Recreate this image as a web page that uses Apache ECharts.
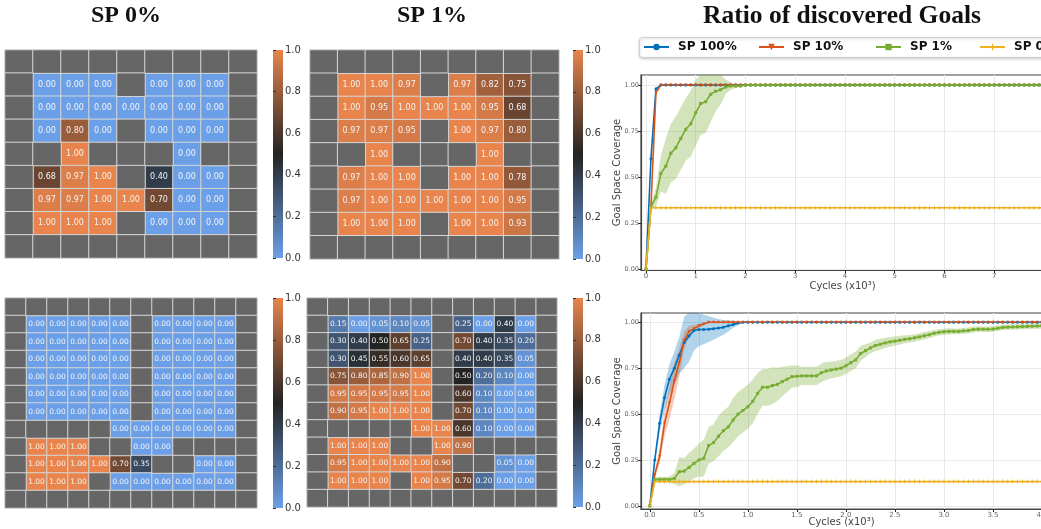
<!DOCTYPE html>
<html>
<head>
<meta charset="utf-8">
<script src="https://cdn.jsdelivr.net/npm/echarts@6/dist/echarts.min.js"></script>
<style>
  html, body { margin: 0; padding: 0; background: #fff; }
  #chart { width: 1041px; height: 529px; }
</style>
</head>
<body>
<div id="chart"></div>
<script>
// wall cells of the maze have no value
var _ = null;

// success ratio per cell, small maze (9x9)
var sp0Small = [
  [_, _, _, _, _, _, _, _, _],
  [_, 0, 0, 0, _, 0, 0, 0, _],
  [_, 0, 0, 0, 0, 0, 0, 0, _],
  [_, 0, 0.80, 0, _, 0, 0, 0, _],
  [_, _, 1, _, _, _, 0, _, _],
  [_, 0.68, 0.97, 1, _, 0.40, 0, 0, _],
  [_, 0.97, 0.97, 1, 1, 0.70, 0, 0, _],
  [_, 1, 1, 1, _, 0, 0, 0, _],
  [_, _, _, _, _, _, _, _, _]
];
var sp1Small = [
  [_, _, _, _, _, _, _, _, _],
  [_, 1, 1, 0.97, _, 0.97, 0.82, 0.75, _],
  [_, 1, 0.95, 1, 1, 1, 0.95, 0.68, _],
  [_, 0.97, 0.97, 0.95, _, 1, 0.97, 0.80, _],
  [_, _, 1, _, _, _, 1, _, _],
  [_, 0.97, 1, 1, _, 1, 1, 0.78, _],
  [_, 0.97, 1, 1, 1, 1, 1, 0.95, _],
  [_, 1, 1, 1, _, 1, 1, 0.93, _],
  [_, _, _, _, _, _, _, _, _]
];

// success ratio per cell, large maze (12x12)
var sp0Large = [
  [_, _, _, _, _, _, _, _, _, _, _, _],
  [_, 0, 0, 0, 0, 0, _, 0, 0, 0, 0, _],
  [_, 0, 0, 0, 0, 0, _, 0, 0, 0, 0, _],
  [_, 0, 0, 0, 0, 0, _, 0, 0, 0, 0, _],
  [_, 0, 0, 0, 0, 0, _, 0, 0, 0, 0, _],
  [_, 0, 0, 0, 0, 0, _, 0, 0, 0, 0, _],
  [_, 0, 0, 0, 0, 0, _, 0, 0, 0, 0, _],
  [_, _, _, _, _, 0, 0, 0, 0, 0, 0, _],
  [_, 1, 1, 1, _, _, 0, 0, _, _, _, _],
  [_, 1, 1, 1, 1, 0.70, 0.35, _, _, 0, 0, _],
  [_, 1, 1, 1, _, 0, 0, 0, 0, 0, 0, _],
  [_, _, _, _, _, _, _, _, _, _, _, _]
];
var sp1Large = [
  [_, _, _, _, _, _, _, _, _, _, _, _],
  [_, 0.15, 0, 0.05, 0.10, 0.05, _, 0.25, 0, 0.40, 0, _],
  [_, 0.30, 0.40, 0.50, 0.65, 0.25, _, 0.70, 0.40, 0.35, 0.20, _],
  [_, 0.30, 0.45, 0.55, 0.60, 0.65, _, 0.40, 0.40, 0.35, 0.05, _],
  [_, 0.75, 0.80, 0.85, 0.90, 1, _, 0.50, 0.20, 0.10, 0, _],
  [_, 0.95, 0.95, 0.95, 0.95, 1, _, 0.60, 0.10, 0, 0, _],
  [_, 0.90, 0.95, 1, 1, 1, _, 0.70, 0.10, 0, 0, _],
  [_, _, _, _, _, 1, 1, 0.60, 0.10, 0, 0, _],
  [_, 1, 1, 1, _, _, 1, 0.90, _, _, _, _],
  [_, 0.95, 1, 1, 1, 1, 0.90, _, _, 0.05, 0, _],
  [_, 1, 1, 1, _, 1, 0.95, 0.70, 0.20, 0, 0, _],
  [_, _, _, _, _, _, _, _, _, _, _, _]
];

// tick labels
var colorbarTicks = [0, 0.2, 0.4, 0.6, 0.8, 1];
var topXTicks = [0, 1, 2, 3, 4, 5, 6, 7, 8];
var botXTicks = [0, 0.5, 1, 1.5, 2, 2.5, 3, 3.5, 4];
var yTicks = [0, 0.25, 0.5, 0.75, 1];

var seriesNames = ["SP 100%", "SP 10%", "SP 1%", "SP 0%"];

// top curve: cycles (x10^3) and coverage
var xTop = [
  0, 0.1, 0.2, 0.3, 0.4, 0.5, 0.6, 0.7, 0.8, 0.9,
  1, 1.1, 1.2, 1.3, 1.4, 1.5, 1.6, 1.7, 1.8, 1.9,
  2, 2.1, 2.2, 2.3, 2.4, 2.5, 2.6, 2.7, 2.8, 2.9,
  3, 3.1, 3.2, 3.3, 3.4, 3.5, 3.6, 3.7, 3.8, 3.9,
  4, 4.1, 4.2, 4.3, 4.4, 4.5, 4.6, 4.7, 4.8, 4.9,
  5, 5.1, 5.2, 5.3, 5.4, 5.5, 5.6, 5.7, 5.8, 5.9,
  6, 6.1, 6.2, 6.3, 6.4, 6.5, 6.6, 6.7, 6.8, 6.9,
  7, 7.1, 7.2, 7.3, 7.4, 7.5, 7.6, 7.7, 7.8, 7.9,
  8
];
var sp100Top = [
  0, 0.6, 0.98, 1, 1, 1, 1, 1, 1, 1,
  1, 1, 1, 1, 1, 1, 1, 1, 1, 1,
  1, 1, 1, 1, 1, 1, 1, 1, 1, 1,
  1, 1, 1, 1, 1, 1, 1, 1, 1, 1,
  1, 1, 1, 1, 1, 1, 1, 1, 1, 1,
  1, 1, 1, 1, 1, 1, 1, 1, 1, 1,
  1, 1, 1, 1, 1, 1, 1, 1, 1, 1,
  1, 1, 1, 1, 1, 1, 1, 1, 1, 1,
  1
];
var sp10Top = [
  0, 0.34, 0.96, 1, 1, 1, 1, 1, 1, 1,
  1, 1, 1, 1, 1, 1, 1, 1, 1, 1,
  1, 1, 1, 1, 1, 1, 1, 1, 1, 1,
  1, 1, 1, 1, 1, 1, 1, 1, 1, 1,
  1, 1, 1, 1, 1, 1, 1, 1, 1, 1,
  1, 1, 1, 1, 1, 1, 1, 1, 1, 1,
  1, 1, 1, 1, 1, 1, 1, 1, 1, 1,
  1, 1, 1, 1, 1, 1, 1, 1, 1, 1,
  1
];
var sp1Top = [
  0, 0.34, 0.39, 0.52, 0.56, 0.63, 0.66, 0.71, 0.76, 0.79,
  0.85, 0.9, 0.91, 0.95, 0.967, 0.975, 0.99, 0.995, 0.995, 0.995,
  1, 1, 1, 1, 1, 1, 1, 1, 1, 1,
  1, 1, 1, 1, 1, 1, 1, 1, 1, 1,
  1, 1, 1, 1, 1, 1, 1, 1, 1, 1,
  1, 1, 1, 1, 1, 1, 1, 1, 1, 1,
  1, 1, 1, 1, 1, 1, 1, 1, 1, 1,
  1, 1, 1, 1, 1, 1, 1, 1, 1, 1,
  1
];
var sp1TopSd = [
  0, 0.02, 0.05, 0.1, 0.15, 0.16, 0.17, 0.17, 0.17, 0.18,
  0.18, 0.17, 0.17, 0.15, 0.11, 0.08, 0.04, 0.02, 0.01, 0.005,
  0, 0, 0, 0, 0, 0, 0, 0, 0, 0,
  0, 0, 0, 0, 0, 0, 0, 0, 0, 0,
  0, 0, 0, 0, 0, 0, 0, 0, 0, 0,
  0, 0, 0, 0, 0, 0, 0, 0, 0, 0,
  0, 0, 0, 0, 0, 0, 0, 0, 0, 0,
  0, 0, 0, 0, 0, 0, 0, 0, 0, 0,
  0
];
var sp0Top = [
  0, 0.333, 0.333, 0.333, 0.333, 0.333, 0.333, 0.333, 0.333, 0.333,
  0.333, 0.333, 0.333, 0.333, 0.333, 0.333, 0.333, 0.333, 0.333, 0.333,
  0.333, 0.333, 0.333, 0.333, 0.333, 0.333, 0.333, 0.333, 0.333, 0.333,
  0.333, 0.333, 0.333, 0.333, 0.333, 0.333, 0.333, 0.333, 0.333, 0.333,
  0.333, 0.333, 0.333, 0.333, 0.333, 0.333, 0.333, 0.333, 0.333, 0.333,
  0.333, 0.333, 0.333, 0.333, 0.333, 0.333, 0.333, 0.333, 0.333, 0.333,
  0.333, 0.333, 0.333, 0.333, 0.333, 0.333, 0.333, 0.333, 0.333, 0.333,
  0.333, 0.333, 0.333, 0.333, 0.333, 0.333, 0.333, 0.333, 0.333, 0.333,
  0.333
];

// bottom curve: cycles (x10^3) and coverage
var xBot = [
  0, 0.05, 0.1, 0.15, 0.2, 0.25, 0.3, 0.35, 0.4, 0.45,
  0.5, 0.55, 0.6, 0.65, 0.7, 0.75, 0.8, 0.85, 0.9, 0.95,
  1, 1.05, 1.1, 1.15, 1.2, 1.25, 1.3, 1.35, 1.4, 1.45,
  1.5, 1.55, 1.6, 1.65, 1.7, 1.75, 1.8, 1.85, 1.9, 1.95,
  2, 2.05, 2.1, 2.15, 2.2, 2.25, 2.3, 2.35, 2.4, 2.45,
  2.5, 2.55, 2.6, 2.65, 2.7, 2.75, 2.8, 2.85, 2.9, 2.95,
  3, 3.05, 3.1, 3.15, 3.2, 3.25, 3.3, 3.35, 3.4, 3.45,
  3.5, 3.55, 3.6, 3.65, 3.7, 3.75, 3.8, 3.85, 3.9, 3.95,
  4
];
var sp100Bot = [
  0, 0.25, 0.45, 0.59, 0.69, 0.75, 0.82, 0.89, 0.925, 0.955,
  0.96, 0.96, 0.962, 0.965, 0.968, 0.972, 0.98, 0.988, 0.995, 1,
  1, 1, 1, 1, 1, 1, 1, 1, 1, 1,
  1, 1, 1, 1, 1, 1, 1, 1, 1, 1,
  1, 1, 1, 1, 1, 1, 1, 1, 1, 1,
  1, 1, 1, 1, 1, 1, 1, 1, 1, 1,
  1, 1, 1, 1, 1, 1, 1, 1, 1, 1,
  1, 1, 1, 1, 1, 1, 1, 1, 1, 1,
  1
];
var sp100BotSd = [
  0, 0.02, 0.05, 0.07, 0.08, 0.09, 0.1, 0.14, 0.14, 0.11,
  0.09, 0.08, 0.07, 0.06, 0.05, 0.04, 0.03, 0.02, 0.01, 0,
  0, 0, 0, 0, 0, 0, 0, 0, 0, 0,
  0, 0, 0, 0, 0, 0, 0, 0, 0, 0,
  0, 0, 0, 0, 0, 0, 0, 0, 0, 0,
  0, 0, 0, 0, 0, 0, 0, 0, 0, 0,
  0, 0, 0, 0, 0, 0, 0, 0, 0, 0,
  0, 0, 0, 0, 0, 0, 0, 0, 0, 0,
  0
];
var sp10Bot = [
  0, 0.17, 0.27, 0.45, 0.56, 0.68, 0.78, 0.9, 0.95, 0.965,
  0.98, 0.99, 1, 1, 1, 1, 1, 1, 1, 1,
  1, 1, 1, 1, 1, 1, 1, 1, 1, 1,
  1, 1, 1, 1, 1, 1, 1, 1, 1, 1,
  1, 1, 1, 1, 1, 1, 1, 1, 1, 1,
  1, 1, 1, 1, 1, 1, 1, 1, 1, 1,
  1, 1, 1, 1, 1, 1, 1, 1, 1, 1,
  1, 1, 1, 1, 1, 1, 1, 1, 1, 1,
  1
];
var sp10BotSd = [
  0, 0.02, 0.04, 0.07, 0.09, 0.1, 0.08, 0.05, 0.03, 0.02,
  0.01, 0.005, 0, 0, 0, 0, 0, 0, 0, 0,
  0, 0, 0, 0, 0, 0, 0, 0, 0, 0,
  0, 0, 0, 0, 0, 0, 0, 0, 0, 0,
  0, 0, 0, 0, 0, 0, 0, 0, 0, 0,
  0, 0, 0, 0, 0, 0, 0, 0, 0, 0,
  0, 0, 0, 0, 0, 0, 0, 0, 0, 0,
  0, 0, 0, 0, 0, 0, 0, 0, 0, 0,
  0
];
var sp1Bot = [
  0, 0.145, 0.145, 0.145, 0.145, 0.15, 0.187, 0.19, 0.21, 0.232,
  0.25, 0.26, 0.33, 0.345, 0.38, 0.41, 0.43, 0.468, 0.5, 0.52,
  0.54, 0.57, 0.613, 0.646, 0.646, 0.655, 0.662, 0.677, 0.69, 0.704,
  0.706, 0.708, 0.708, 0.708, 0.708, 0.725, 0.735, 0.74, 0.745, 0.75,
  0.763, 0.78, 0.795, 0.83, 0.845, 0.86, 0.873, 0.88, 0.887, 0.893,
  0.897, 0.902, 0.907, 0.91, 0.915, 0.92, 0.926, 0.932, 0.94, 0.945,
  0.948, 0.95, 0.95, 0.95, 0.953, 0.955, 0.96, 0.962, 0.962, 0.962,
  0.963, 0.967, 0.972, 0.973, 0.974, 0.975, 0.976, 0.977, 0.978, 0.979,
  0.98
];
var sp1BotSd = [
  0, 0.01, 0.015, 0.015, 0.015, 0.03, 0.08, 0.07, 0.08, 0.08,
  0.09, 0.1, 0.1, 0.1, 0.11, 0.11, 0.11, 0.12, 0.12, 0.12,
  0.12, 0.12, 0.11, 0.1, 0.1, 0.1, 0.09, 0.08, 0.07, 0.06,
  0.06, 0.05, 0.05, 0.05, 0.05, 0.05, 0.05, 0.045, 0.045, 0.045,
  0.045, 0.045, 0.045, 0.04, 0.035, 0.03, 0.03, 0.03, 0.028, 0.026,
  0.025, 0.024, 0.022, 0.02, 0.02, 0.02, 0.02, 0.02, 0.018, 0.018,
  0.017, 0.017, 0.016, 0.016, 0.016, 0.016, 0.016, 0.015, 0.015, 0.015,
  0.015, 0.015, 0.015, 0.015, 0.015, 0.015, 0.015, 0.015, 0.015, 0.015,
  0.015
];
var sp0Bot = [
  0, 0.133, 0.133, 0.133, 0.133, 0.133, 0.133, 0.133, 0.133, 0.133,
  0.133, 0.133, 0.133, 0.133, 0.133, 0.133, 0.133, 0.133, 0.133, 0.133,
  0.133, 0.133, 0.133, 0.133, 0.133, 0.133, 0.133, 0.133, 0.133, 0.133,
  0.133, 0.133, 0.133, 0.133, 0.133, 0.133, 0.133, 0.133, 0.133, 0.133,
  0.133, 0.133, 0.133, 0.133, 0.133, 0.133, 0.133, 0.133, 0.133, 0.133,
  0.133, 0.133, 0.133, 0.133, 0.133, 0.133, 0.133, 0.133, 0.133, 0.133,
  0.133, 0.133, 0.133, 0.133, 0.133, 0.133, 0.133, 0.133, 0.133, 0.133,
  0.133, 0.133, 0.133, 0.133, 0.133, 0.133, 0.133, 0.133, 0.133, 0.133,
  0.133
];

// colores
var cmapLow = "#6ba0e8", cmapMid = "#232323", cmapHigh = "#e8844c";
var wallColor = "#666666", cellBorder = "#d6d6d6";
var cBlue = "#0072BD", cRed = "#D95319", cGreen = "#77AC30", cYellow = "#EDB120";
var plusPath = "path://M2,0H3V2H5V3H3V5H2V3H0V2H2Z";

function cells(grid, walls) {
  var out = [];
  for (var r = 0; r < grid.length; r++) {
    for (var c = 0; c < grid[r].length; c++) {
      var v = grid[r][c];
      if (walls && v === null) out.push([c, r, 0]);
      if (!walls && v !== null) out.push([c, r, v]);
    }
  }
  return out;
}

function indexList(n) {
  var out = [];
  for (var i = 0; i < n; i++) out.push(String(i));
  return out;
}

function heatSeries(grid, g, fontSize) {
  return [
    {
      type: "heatmap", xAxisIndex: g, yAxisIndex: g,
      data: cells(grid, false),
      itemStyle: { borderColor: cellBorder, borderWidth: 1 },
      label: {
        show: true, color: "#f4f4f4", fontSize: fontSize, fontFamily: "DejaVu Sans",
        formatter: function (p) { return p.value[2].toFixed(2); }
      },
      emphasis: { disabled: true }
    },
    {
      type: "heatmap", xAxisIndex: g, yAxisIndex: g,
      data: cells(grid, true),
      itemStyle: { color: wallColor, borderColor: cellBorder, borderWidth: 1 },
      label: { show: false },
      emphasis: { disabled: true }
    }
  ];
}

function lineSeries(name, xs, ys, color, symbol, size, g, rotate) {
  var pts = [];
  for (var i = 0; i < xs.length; i++) pts.push([xs[i], ys[i]]);
  return {
    name: name, type: "line", xAxisIndex: g, yAxisIndex: g, data: pts,
    symbol: symbol, symbolSize: size, symbolRotate: rotate || 0, showSymbol: true,
    itemStyle: { color: color },
    lineStyle: { color: color, width: 1.6 },
    emphasis: { disabled: true }, z: 3
  };
}

function bandSeries(xs, mean, sd, color, g) {
  var pts = [];
  for (var i = 0; i < xs.length; i++) pts.push([xs[i], mean[i] - sd[i], mean[i] + sd[i]]);
  return {
    type: "custom", xAxisIndex: g, yAxisIndex: g, data: pts, clip: true, silent: true, z: 1,
    encode: { x: 0, y: [1, 2] },
    renderItem: function (params, api) {
      if (params.dataIndex !== 0) return null;
      var cs = params.coordSys;
      var lower = [], upper = [];
      for (var i = 0; i < pts.length; i++) {
        var lo = api.coord([pts[i][0], pts[i][1]]);
        var hi = api.coord([pts[i][0], pts[i][2]]);
        lo[1] = Math.max(cs.y, Math.min(cs.y + cs.height, lo[1]));
        hi[1] = Math.max(cs.y, Math.min(cs.y + cs.height, hi[1]));
        lower.push(lo);
        upper.unshift(hi);
      }
      return {
        type: "polygon",
        shape: { points: lower.concat(upper) },
        style: { fill: color, stroke: null }
      };
    }
  };
}

function heatAxes(n, g) {
  return {
    x: { type: "category", gridIndex: g, data: indexList(n), show: false },
    y: { type: "category", gridIndex: g, data: indexList(n), show: false, inverse: true }
  };
}

function colorbarAxes(g) {
  return {
    x: { type: "value", gridIndex: g, min: 0, max: 1, show: false },
    y: {
      type: "value", gridIndex: g, min: 0, max: 1, interval: 0.2, position: "right",
      axisLine: { show: false },
      axisTick: { show: true, length: 3, lineStyle: { color: "#333" } },
      axisLabel: {
        fontSize: 10, color: "#333", margin: 2, fontFamily: "DejaVu Sans",
        customValues: colorbarTicks,
        formatter: function (v) { return v.toFixed(1); }
      },
      splitLine: { show: false }
    }
  };
}

function colorbarGradient() {
  return new echarts.graphic.LinearGradient(0, 1, 0, 0, [
    { offset: 0, color: cmapLow },
    { offset: 0.5, color: cmapMid },
    { offset: 1, color: cmapHigh }
  ]);
}

function curveAxes(g, xmin, xmax, xticks, xfmt, ymin, ymax, xNameGap) {
  return {
    x: {
      type: "value", gridIndex: g, min: xmin, max: xmax,
      name: "Cycles (x10³)", nameLocation: "middle", nameGap: xNameGap, nameMoveOverlap: false,
      nameTextStyle: { fontSize: 10, color: "#444", fontFamily: "DejaVu Sans" },
      axisLine: { show: true, onZero: false, lineStyle: { color: "#444", width: 1.2 } },
      axisTick: { show: true, length: 3, customValues: xticks, lineStyle: { color: "#222" } },
      axisLabel: { fontSize: 7, color: "#666", margin: 3, customValues: xticks, formatter: xfmt },
      splitLine: { show: true, lineStyle: { color: "#e8e8e8", width: 1 } }
    },
    y: {
      type: "value", gridIndex: g, min: ymin, max: ymax,
      name: "Goal Space Coverage", nameLocation: "middle", nameGap: 19, nameMoveOverlap: false,
      nameTextStyle: { fontSize: 10, color: "#444", fontFamily: "DejaVu Sans" },
      axisLine: { show: true, onZero: false, lineStyle: { color: "#444", width: 1.2 } },
      axisTick: { show: true, length: 3, customValues: yTicks, lineStyle: { color: "#222" } },
      axisLabel: {
        fontSize: 6.5, color: "#666", margin: 2, customValues: yTicks,
        formatter: function (v) { return v.toFixed(2); }
      },
      splitLine: { show: true, lineStyle: { color: "#e8e8e8", width: 1 } }
    }
  };
}

var axes = [
  heatAxes(9, 0), heatAxes(9, 1), heatAxes(12, 2), heatAxes(12, 3),
  colorbarAxes(4), colorbarAxes(5), colorbarAxes(6), colorbarAxes(7),
  curveAxes(8, -0.1, 8, topXTicks, function (v) { return String(Math.round(v)); }, -0.005, 1.055, 11),
  curveAxes(9, -0.09, 4, botXTicks, function (v) { return v.toFixed(1); }, -0.016, 1.05, 8)
];

var series = []
  .concat(heatSeries(sp0Small, 0, 8))
  .concat(heatSeries(sp1Small, 1, 8))
  .concat(heatSeries(sp0Large, 2, 7.5))
  .concat(heatSeries(sp1Large, 3, 7.5))
  .concat([
    bandSeries(xTop, sp1Top, sp1TopSd, "rgba(119,172,48,0.32)", 8),
    lineSeries(seriesNames[0], xTop, sp100Top, cBlue, "circle", 3, 8),
    lineSeries(seriesNames[1], xTop, sp10Top, cRed, "triangle", 3, 8, 180),
    lineSeries(seriesNames[2], xTop, sp1Top, cGreen, "rect", 3, 8),
    lineSeries(seriesNames[3], xTop, sp0Top, cYellow, plusPath, 4, 8),
    bandSeries(xBot, sp100Bot, sp100BotSd, "rgba(0,114,189,0.3)", 9),
    bandSeries(xBot, sp10Bot, sp10BotSd, "rgba(217,83,25,0.3)", 9),
    bandSeries(xBot, sp1Bot, sp1BotSd, "rgba(119,172,48,0.32)", 9),
    lineSeries(seriesNames[0], xBot, sp100Bot, cBlue, "circle", 3, 9),
    lineSeries(seriesNames[1], xBot, sp10Bot, cRed, "triangle", 3, 9, 180),
    lineSeries(seriesNames[2], xBot, sp1Bot, cGreen, "rect", 3, 9),
    lineSeries(seriesNames[3], xBot, sp0Bot, cYellow, plusPath, 4, 9)
  ]);

var titleSmall = { fontFamily: "Liberation Serif", fontWeight: "bold", fontSize: 24, color: "#111" };
var titleBig = { fontFamily: "Liberation Serif", fontWeight: "bold", fontSize: 25.5, color: "#111" };

function plainGrid(l, t, w, h, extra) {
  var g = { left: l, top: t, width: w, height: h, outerBoundsMode: "none", containLabel: false };
  for (var k in extra) g[k] = extra[k];
  return g;
}

// one legend per entry, like matplotlib's evenly spaced columns
var legendLefts = [643, 758, 875, 979];
var legends = seriesNames.map(function (name, i) {
  return {
    data: [name], left: legendLefts[i], top: 41, padding: 0,
    itemWidth: 25, itemHeight: 8, itemGap: 0,
    textStyle: { fontFamily: "DejaVu Sans", fontWeight: "bold", fontSize: 12, color: "#111", padding: [0, 0, 0, 4] }
  };
});

var option = {
  animation: false,
  textStyle: { fontFamily: "DejaVu Sans" },
  title: [
    { text: "SP 0%", left: 126, top: 4, textAlign: "center", padding: 0, textStyle: titleSmall },
    { text: "SP 1%", left: 432, top: 4, textAlign: "center", padding: 0, textStyle: titleSmall },
    { text: "Ratio of discovered Goals", left: 842, top: 3, textAlign: "center", padding: 0, textStyle: titleBig }
  ],
  graphic: [
    {
      type: "rect", left: 639, top: 37, z: -1,
      shape: { width: 420, height: 20, r: 3 },
      style: { fill: "#fff", stroke: "#d0d0d0", lineWidth: 1, shadowColor: "rgba(0,0,0,0.2)", shadowBlur: 3, shadowOffsetY: 1 }
    }
  ],
  legend: legends,
  visualMap: {
    show: false, min: 0, max: 1, seriesIndex: [0, 2, 4, 6],
    inRange: { color: [cmapLow, cmapMid, cmapHigh] }
  },
  grid: [
    plainGrid(5, 50, 252, 208, {}),
    plainGrid(310, 50, 249, 209, {}),
    plainGrid(5, 298, 252, 210, {}),
    plainGrid(307, 298, 250, 209, {}),
    plainGrid(273, 50, 10, 208, { show: true, borderWidth: 0, backgroundColor: colorbarGradient() }),
    plainGrid(573, 50, 10, 209, { show: true, borderWidth: 0, backgroundColor: colorbarGradient() }),
    plainGrid(273, 298, 10, 210, { show: true, borderWidth: 0, backgroundColor: colorbarGradient() }),
    plainGrid(573, 298, 10, 209, { show: true, borderWidth: 0, backgroundColor: colorbarGradient() }),
    plainGrid(641, 75, 403, 195, { show: true, borderColor: "#444", borderWidth: 1.2 }),
    plainGrid(641, 313, 401, 196, { show: true, borderColor: "#444", borderWidth: 1.2 })
  ],
  xAxis: axes.map(function (a) { return a.x; }),
  yAxis: axes.map(function (a) { return a.y; }),
  series: series
};

var chart = echarts.init(document.getElementById("chart"), null, { renderer: "canvas" });
chart.setOption(option);
</script>
</body>
</html>
